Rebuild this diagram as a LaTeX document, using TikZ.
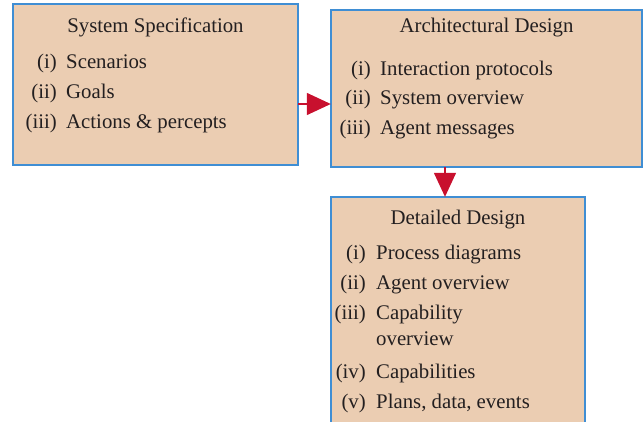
\documentclass[tikz,border=0pt]{standalone}
\usepackage{fontspec}
\setmainfont{Liberation Serif}
\usetikzlibrary{arrows.meta}
\definecolor{boxfill}{HTML}{EBCDB2}
\definecolor{boxline}{HTML}{3F8ED4}
\definecolor{arrred}{HTML}{C8102E}
\definecolor{txt}{HTML}{231F20}
\tikzset{
  stage/.style={draw=boxline, line width=1.3pt, fill=boxfill, inner sep=0pt},
  ttl/.style={anchor=base, font=\fontsize{20.8}{24}\selectfont, text=txt, inner sep=0pt},
  lbl/.style={anchor=base east, font=\fontsize{20.8}{24}\selectfont, text=txt, inner sep=0pt},
  itm/.style={anchor=base west, font=\fontsize{20.8}{24}\selectfont, text=txt, inner sep=0pt},
  flow/.style={draw=arrred, line width=1.4pt, -{Triangle[length=24pt,width=22pt]}, arrred}
}
\begin{document}
\begin{tikzpicture}[x=1pt,y=-1pt]
\useasboundingbox (0,0) rectangle (643,421);
% stage boxes
\path[stage] (13,4) rectangle (298,165);
\node[minimum width=285pt, minimum height=161pt, inner sep=0pt] (spec) at (155.5,84.5) {};
\path[stage] (331,10) rectangle (642,167);
\node[minimum width=311pt, minimum height=157pt, inner sep=0pt] (arch) at (486.5,88.5) {};
\path[stage] (331,197) rectangle (585,440);
\node[minimum width=254pt, minimum height=243pt, inner sep=0pt] (det) at (458,318.5) {};
% system specification
\node[ttl] (t1) at (155.5,32) {System Specification};
\node[lbl] (l11) at (57,68) {(i)};   \node[itm] (i11) at (66,68) {Scenarios};
\node[lbl] (l12) at (57,98) {(ii)};  \node[itm] (i12) at (66,98) {Goals};
\node[lbl] (l13) at (57,128) {(iii)}; \node[itm] (i13) at (66,128) {Actions \& percepts};
% architectural design
\node[ttl] (t2) at (486.5,32) {Architectural Design};
\node[lbl] (l21) at (371,75) {(i)};   \node[itm] (i21) at (380,75) {Interaction protocols};
\node[lbl] (l22) at (371,104) {(ii)};  \node[itm] (i22) at (380,104) {System overview};
\node[lbl] (l23) at (371,134) {(iii)}; \node[itm] (i23) at (380,134) {Agent messages};
% detailed design
\node[ttl] (t3) at (458,224) {Detailed Design};
\node[lbl] (l31) at (366,259) {(i)};   \node[itm] (i31) at (376,259) {Process diagrams};
\node[lbl] (l32) at (366,289) {(ii)};  \node[itm] (i32) at (376,289) {Agent overview};
\node[lbl] (l33) at (366,319) {(iii)}; \node[itm] (i33) at (376,319) {Capability};
\node[itm] (i34) at (376,345) {overview};
\node[lbl] (l35) at (366,378) {(iv)};  \node[itm] (i35) at (376,378) {Capabilities};
\node[lbl] (l36) at (366,408) {(v)};   \node[itm] (i36) at (376,408) {Plans, data, events};
% flow arrows
\draw[flow] (spec.east |- 0,104) -- (arch.west |- 0,104);
\draw[flow] (arch.south -| 445,0) -- (det.north -| 445,0);
\end{tikzpicture}
\end{document}
